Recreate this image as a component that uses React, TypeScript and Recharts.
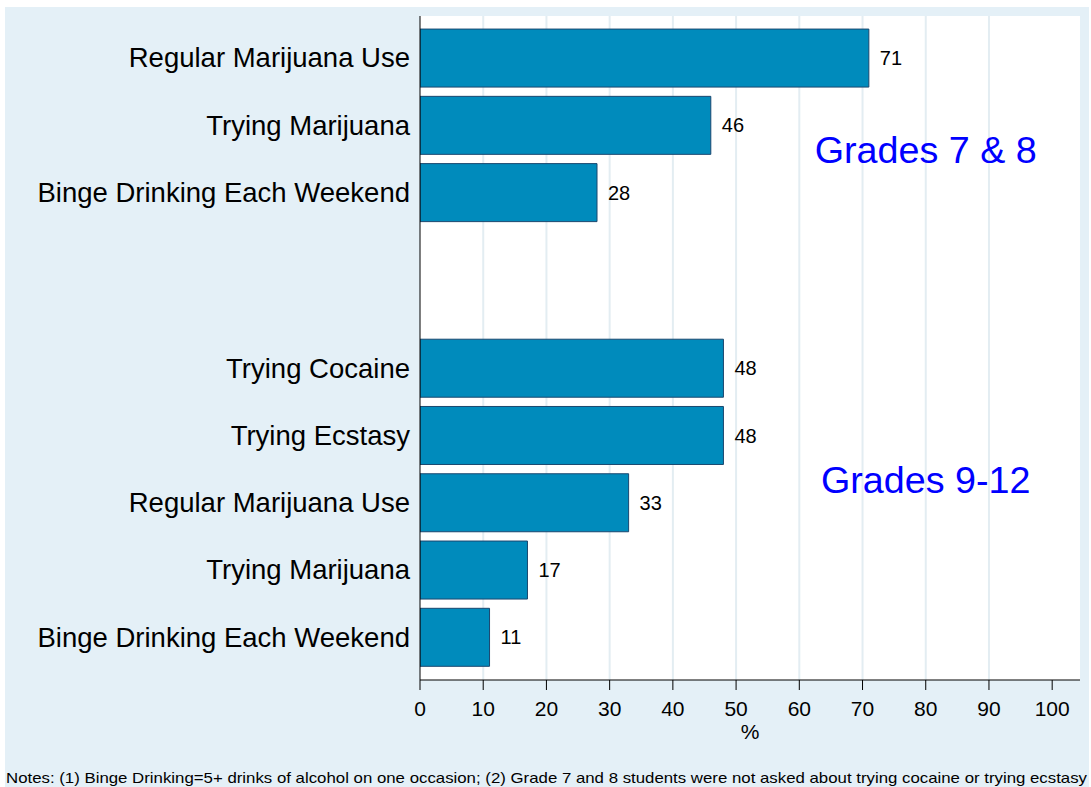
import React from 'react';
import {
  BarChart,
  Bar,
  XAxis,
  YAxis,
  CartesianGrid,
  LabelList,
  ReferenceDot,
  Label,
} from 'recharts';

// categories, top group first (Grades 7 & 8), then Grades 9-12
const grade78Labels = ['Regular Marijuana Use', 'Trying Marijuana', 'Binge Drinking Each Weekend'];
const grade78Values = [71, 46, 28];

const grade912Labels = [
  'Trying Cocaine',
  'Trying Ecstasy',
  'Regular Marijuana Use',
  'Trying Marijuana',
  'Binge Drinking Each Weekend',
];
const grade912Values = [48, 48, 33, 17, 11];

const xTicks = [0, 10, 20, 30, 40, 50, 60, 70, 80, 90, 100];
const gridValues = [10, 20, 30, 40, 50, 60, 70, 80, 90];

const groupTitles = ['Grades 7 & 8', 'Grades 9-12'];

const NOTE =
  'Notes: (1) Binge Drinking=5+ drinks of alcohol on one occasion; (2) Grade 7 and 8 students were not asked about trying cocaine or trying ecstasy';

// slot layout on the category axis (one unit per bar, extra space between groups)
const FIRST_SLOT = 0.62;
const GROUP_GAP = 1.61;
const SLOT_MAX = 9.87;

const rows = [
  ...grade78Labels.map((label, i) => ({ label, value: grade78Values[i], pos: FIRST_SLOT + i })),
  ...grade912Labels.map((label, i) => ({
    label,
    value: grade912Values[i],
    pos: FIRST_SLOT + grade78Labels.length + GROUP_GAP + i,
  })),
];

const titleSlots = [FIRST_SLOT + 1.37, FIRST_SLOT + grade78Labels.length + GROUP_GAP + 1.66];

const FONT = '"Liberation Sans", Arial, Helvetica, sans-serif';

export default function App() {
  return (
    <div
      style={{
        position: 'absolute',
        left: 0,
        top: 0,
        width: 1091,
        height: 787,
        background: '#fff',
        fontFamily: FONT,
      }}
    >
      <div
        style={{
          position: 'absolute',
          left: 5,
          top: 7,
          width: 1084,
          height: 780,
          background: '#e4f0f7',
        }}
      />
      <div style={{ position: 'absolute', left: 0, top: 0 }}>
        <BarChart
          width={1091}
          height={787}
          data={rows}
          layout="vertical"
          margin={{ top: 16, right: 11, bottom: 77, left: 0 }}
        >
          <CartesianGrid
            fill="#ffffff"
            horizontal={false}
            vertical
            verticalValues={gridValues}
            stroke="#e3edf2"
            strokeWidth={2}
          />
          <XAxis
            type="number"
            dataKey="value"
            domain={[0, 104.4]}
            ticks={xTicks}
            allowDataOverflow
            stroke="#000"
            tickSize={10}
            tickMargin={11}
            height={30}
            tick={{ fill: '#000', fontSize: 21, fontFamily: FONT }}
          >
            <Label value="%" position="bottom" offset={14} fill="#000" fontSize={21} fontFamily={FONT} />
          </XAxis>
          <YAxis
            type="number"
            dataKey="pos"
            domain={[0, SLOT_MAX]}
            ticks={rows.map((r) => r.pos)}
            interval={0}
            tickFormatter={(v: number) => rows.find((r) => Math.abs(r.pos - v) < 1e-6)?.label ?? ''}
            width={420}
            stroke="#000"
            tickLine={false}
            tickSize={0}
            tickMargin={10}
            tick={{ fill: '#000', fontSize: 27.5, fontFamily: FONT }}
          />
          <Bar
            dataKey="value"
            fill="#008bbc"
            stroke="#1a476f"
            strokeWidth={1}
            barSize={58}
            isAnimationActive={false}
          >
            <LabelList dataKey="value" position="right" offset={11} fill="#000" fontSize={20} fontFamily={FONT} />
          </Bar>
          {groupTitles.map((t, i) => (
            <ReferenceDot key={t} x={80} y={titleSlots[i]} r={0} stroke="none" fill="none">
              <Label value={t} position="center" fill="#0000ff" fontSize={37.7} fontFamily={FONT} />
            </ReferenceDot>
          ))}
        </BarChart>
      </div>
      <svg width={1091} height={787} style={{ position: 'absolute', left: 0, top: 0, pointerEvents: 'none' }}>
        <text
          x={6}
          y={783}
          fontSize={15}
          fontFamily={FONT}
          fill="#000"
          textLength={1081}
          lengthAdjust="spacingAndGlyphs"
        >
          {NOTE}
        </text>
      </svg>
    </div>
  );
}
